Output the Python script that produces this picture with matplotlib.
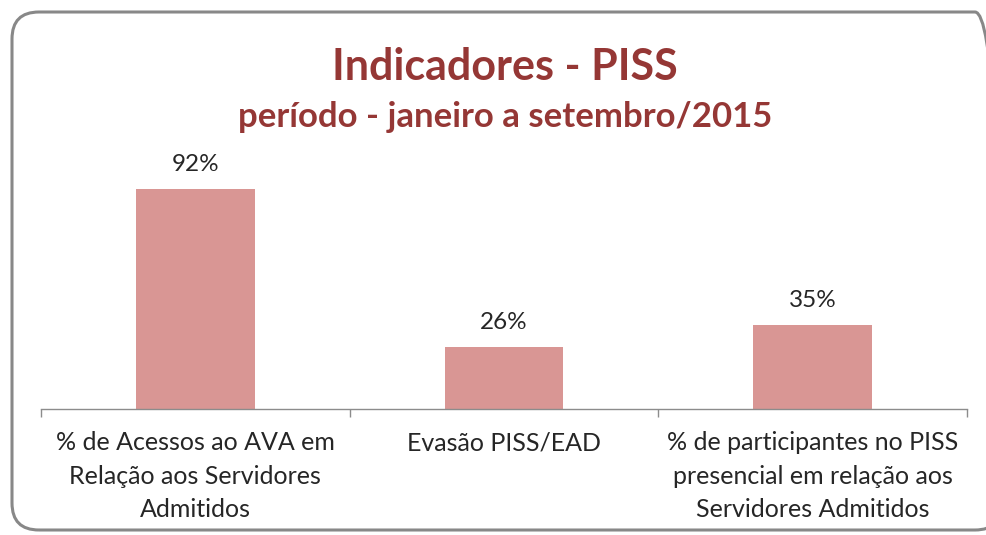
import matplotlib
matplotlib.use('Agg')
import matplotlib.pyplot as plt
from matplotlib.patches import FancyBboxPatch

# data
categories = ['% de Acessos ao AVA em\nRelação aos Servidores\nAdmitidos',
              'Evasão PISS/EAD',
              '% de participantes no PISS\npresencial em relação aos\nServidores Admitidos']
values = [0.92, 0.26, 0.35]
value_labels = ['92%', '26%', '35%']

BAR_COLOR = '#D99694'
TITLE_COLOR = '#953735'
TEXT_COLOR = '#262626'
AXIS_COLOR = '#8C8C8C'

plt.rcParams['font.family'] = ['Lato', 'DejaVu Sans']

W, H = 987, 535
fig = plt.figure(figsize=(W / 100, H / 100), dpi=100)
fig.patch.set_facecolor('white')

# rounded chart frame in inches (runs past the right edge like the screenshot)
frame = FancyBboxPatch((0.12, 0.05), 9.9, 5.18,
                       boxstyle='round,pad=0,rounding_size=0.27',
                       transform=fig.dpi_scale_trans, facecolor='none',
                       edgecolor='#888888', linewidth=2.2, zorder=-1)
fig.patches.append(frame)

fig.text(505 / W, 1 - 80 / H, 'Indicadores - PISS', ha='center', va='baseline',
         fontsize=31, fontweight='bold', color=TITLE_COLOR)
fig.text(505 / W, 1 - 127 / H, 'período - janeiro a setembro/2015', ha='center',
         va='baseline', fontsize=25, fontweight='bold', color=TITLE_COLOR)

ax = fig.add_axes([41 / W, 126 / H, 926 / W, 239 / H])
ax.set_facecolor('none')
x = list(range(len(categories)))
bars = ax.bar(x, values, width=0.385, color=BAR_COLOR, zorder=2)
ax.set_xlim(-0.5, 2.5)
ax.set_ylim(0, 1.0)

for b, lab in zip(bars, value_labels):
    ax.annotate(lab, (b.get_x() + b.get_width() / 2, b.get_height()),
                xytext=(0, 10), textcoords='offset points', ha='center',
                va='bottom', fontsize=17.5, color=TEXT_COLOR)

for s in ['top', 'right', 'left']:
    ax.spines[s].set_visible(False)
ax.spines['bottom'].set_color(AXIS_COLOR)
ax.spines['bottom'].set_linewidth(1.0)
ax.set_yticks([])

ax.set_xticks(x)
ax.set_xticklabels(categories, fontsize=18, color=TEXT_COLOR, linespacing=1.55)
ax.tick_params(axis='x', which='major', length=0, pad=16)
ax.set_xticks([-0.5, 0.5, 1.5, 2.5], minor=True)
ax.tick_params(axis='x', which='minor', length=6, color=AXIS_COLOR, width=1.0)

fig.savefig('out.png', dpi=100, facecolor='white')
